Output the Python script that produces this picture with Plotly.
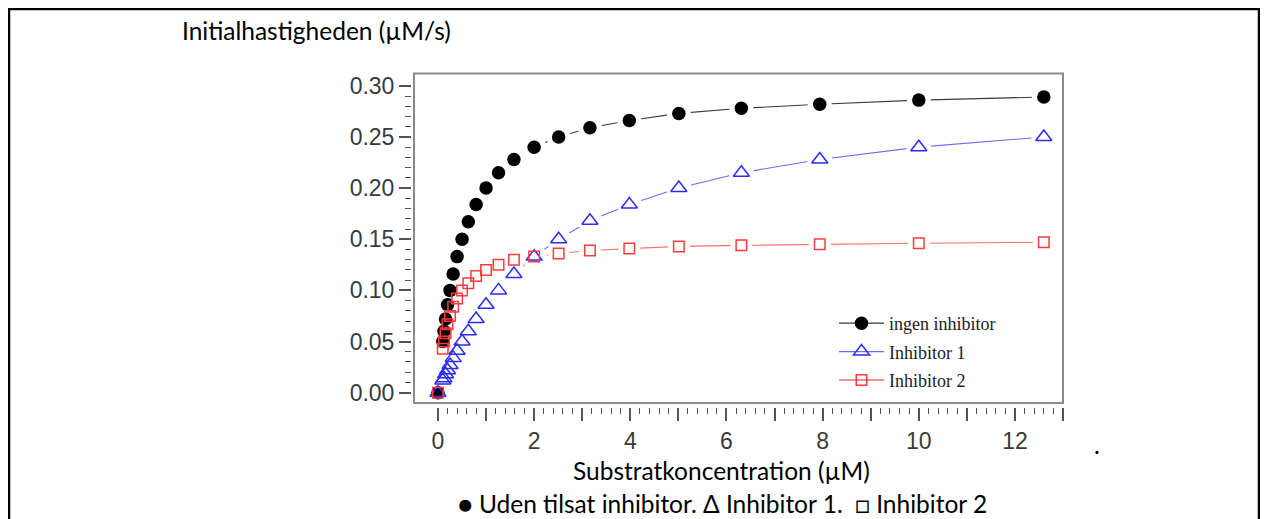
import plotly.graph_objects as go

# ---------------- data ----------------
conc = [0, 0.1, 0.126, 0.158, 0.2, 0.251, 0.316, 0.398, 0.501, 0.631, 0.794,
        1.0, 1.26, 1.58, 2.0, 2.51, 3.16, 3.98, 5.01, 6.31, 7.94, 10.0, 12.6]
v_none = [0, 0.050, 0.060, 0.072, 0.086, 0.100, 0.116, 0.133, 0.150, 0.167, 0.184,
          0.200, 0.215, 0.228, 0.240, 0.250, 0.259, 0.266, 0.273, 0.278, 0.282, 0.286, 0.289]
v_inh1 = [0, 0.012, 0.014, 0.018, 0.022, 0.027, 0.034, 0.041, 0.050, 0.060, 0.072,
          0.086, 0.100, 0.116, 0.133, 0.150, 0.168, 0.184, 0.200, 0.215, 0.228, 0.240, 0.250]
v_inh2 = [0, 0.043, 0.050, 0.058, 0.067, 0.075, 0.084, 0.092, 0.100, 0.107, 0.114,
          0.120, 0.125, 0.130, 0.133, 0.136, 0.139, 0.141, 0.143, 0.144, 0.145, 0.146, 0.147]

series_names = ["ingen inhibitor", "Inhibitor 1", "Inhibitor 2"]

x_tick_vals = list(range(0, 14))
x_tick_text = ["0", "", "2", "", "4", "", "6", "", "8", "", "10", "", "12", ""]
y_tick_vals = [0.0, 0.05, 0.10, 0.15, 0.20, 0.25, 0.30]
y_tick_text = ["0.00", "0.05", "0.10", "0.15", "0.20", "0.25", "0.30"]

y_title = "Initialhastigheden (µM/s)"
x_title = "Substratkoncentration (µM)"
caption = "● Uden tilsat inhibitor. Δ Inhibitor 1. \u00a0□ Inhibitor 2"

# ---------------- layout geometry ----------------
# page pixel = figure pixel + OFF (browser body margin)
OFF = 8
W, H = 1268 - OFF, 519 - OFF
L, R, T, B = 412 - OFF, 1064 - OFF, 73 - OFF, 407 - OFF


def px(x_page):
    return (x_page - OFF - L) / (R - L)


def py(y_page):
    return (B - (y_page - OFF)) / (B - T)


x_minor = [round(i * 0.2, 1) for i in range(0, 66) if i % 5]
y_minor = [round(i * 0.01, 2) for i in range(1, 30) if i % 5]

styles = [
    dict(line="#3a3a3a", marker=dict(symbol="circle", size=13.5, color="#000000",
                                      line=dict(width=0))),
    dict(line="#6a6aff", marker=dict(symbol="triangle-up-open", size=14, color="#2b2bff",
                                      line=dict(width=1.5, color="#2b2bff"))),
    dict(line="#ff6a6a", marker=dict(symbol="square-open", size=10.5, color="#ff3a3a",
                                      line=dict(width=1.5, color="#ff3a3a"))),
]
halo_sizes = [24, 25, 22]
values = [v_none, v_inh1, v_inh2]

fig = go.Figure()

# connecting lines
for vals, st in zip(values, styles):
    fig.add_trace(go.Scatter(x=conc, y=vals, mode="lines",
                             line=dict(color=st["line"], width=1.1),
                             showlegend=False, hoverinfo="skip"))
# white halos (gaps in the lines around markers)
for vals, hs in zip(values, halo_sizes):
    fig.add_trace(go.Scatter(x=conc, y=vals, mode="markers",
                             marker=dict(symbol="circle", size=hs, color="white",
                                         line=dict(width=0)),
                             showlegend=False, hoverinfo="skip"))
# markers
for vals, st, nm in zip(values, styles, series_names):
    fig.add_trace(go.Scatter(x=conc, y=vals, mode="markers", name=nm,
                             marker=st["marker"], showlegend=False))
# legend entries
for st, nm in zip(styles, series_names):
    fig.add_trace(go.Scatter(x=[None], y=[None], mode="lines+markers", name=nm,
                             legendgroup=nm,
                             line=dict(color=st["line"], width=1.3),
                             marker=st["marker"], showlegend=True))

tick_font = dict(family="Liberation Sans, Arial, sans-serif", size=23, color="#3a3a3a")
doc_font = "Lato, Carlito, Calibri, sans-serif"
doc_size = 24.5

fig.update_xaxes(range=[-0.54, 13.02], tickmode="array", tickvals=x_tick_vals,
                 ticktext=x_tick_text, ticks="outside", ticklen=13, tickwidth=1.5,
                 tickcolor="#555555", showline=False, showgrid=False, zeroline=False,
                 tickfont=tick_font,
                 minor=dict(tickmode="array", tickvals=x_minor, ticks="outside",
                            ticklen=6, tickwidth=1.2, tickcolor="#555555", showgrid=False))
fig.update_yaxes(range=[-0.014, 0.3125], tickmode="array", tickvals=y_tick_vals,
                 ticktext=y_tick_text, ticks="outside", ticklen=12, tickwidth=1.5,
                 tickcolor="#555555", showline=False, showgrid=False, zeroline=False,
                 tickfont=tick_font,
                 minor=dict(tickmode="array", tickvals=y_minor, ticks="outside",
                            ticklen=6, tickwidth=1.2, tickcolor="#555555", showgrid=False))

shapes = [
    # plot frame
    dict(type="rect", xref="paper", yref="paper", x0=px(414), x1=px(1063),
         y0=py(403), y1=py(73.5), line=dict(color="#8a8a8a", width=2), layer="above"),
    # document box
    dict(type="line", xref="paper", yref="paper", x0=px(9), x1=px(1260),
         y0=py(9), y1=py(9), line=dict(color="#000000", width=2.5)),
    dict(type="line", xref="paper", yref="paper", x0=px(9), x1=px(9),
         y0=py(8), y1=py(540), line=dict(color="#000000", width=2.5)),
    dict(type="line", xref="paper", yref="paper", x0=px(1259), x1=px(1259),
         y0=py(8), y1=py(540), line=dict(color="#000000", width=2.5)),
]

annotations = [
    dict(text=y_title, xref="paper", yref="paper", x=px(180), y=py(30),
         xanchor="left", yanchor="middle", showarrow=False,
         font=dict(family=doc_font, size=doc_size, color="#000000")),
    dict(text=x_title, xref="paper", yref="paper", x=px(721), y=py(470),
         xanchor="center", yanchor="middle", showarrow=False,
         font=dict(family=doc_font, size=doc_size, color="#000000")),
    dict(text=caption, xref="paper", yref="paper", x=px(722), y=py(503.5),
         xanchor="center", yanchor="middle", showarrow=False,
         font=dict(family=doc_font, size=doc_size, color="#000000")),
    dict(text=".", xref="paper", yref="paper", x=px(1097), y=py(445),
         xanchor="center", yanchor="middle", showarrow=False,
         font=dict(family=doc_font, size=doc_size, color="#000000")),
]

fig.update_layout(
    width=W, height=H, autosize=False,
    margin=dict(l=L, r=W - R, t=T, b=H - B, pad=0),
    paper_bgcolor="white", plot_bgcolor="white",
    shapes=shapes, annotations=annotations,
    showlegend=True,
    legend=dict(x=px(834), y=py(305), xanchor="left", yanchor="top",
                bgcolor="rgba(0,0,0,0)", borderwidth=0, traceorder="grouped",
                tracegroupgap=2, itemwidth=45,
                font=dict(family="Liberation Serif, Times New Roman, serif",
                          size=18, color="#222222")),
)

fig.write_html("out.html")
